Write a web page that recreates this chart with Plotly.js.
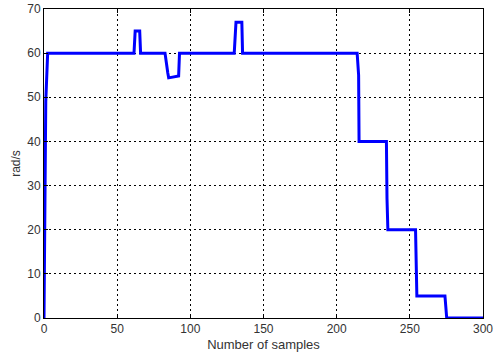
<!DOCTYPE html>
<html><head><meta charset="utf-8">
<script src="https://cdn.plot.ly/plotly-3.0.1.min.js"></script>
<style>html,body{margin:0;padding:0;background:#fff}#c{width:499px;height:360px}</style>
</head><body><div id="c"></div>
<script>
const samples = [0, 0.6, 1.2, 2.5, 61.5, 62.3, 65.4, 66.0, 82.7, 84.6, 85.2, 92.0, 92.6, 130.0, 131.2, 135.2, 135.7, 214.0, 214.4, 215.0, 215.3, 234.0, 234.4, 235.0, 253.9, 254.8, 274.0, 275.2, 300];
const speed   = [0, 18, 49, 60, 60, 65, 65, 60, 60, 55.5, 54.4, 54.8, 60, 60, 67, 67, 60, 60, 56, 55, 40, 40, 27, 20, 20, 5, 5, 0, 0];
const xTicks = [0, 50, 100, 150, 200, 250, 300];
const yTicks = [0, 10, 20, 30, 40, 50, 60, 70];

const fam = 'Liberation Sans, Arial, sans-serif';
const axisCommon = {
  showline: true, linecolor: '#000', linewidth: 1, mirror: 'ticks',
  ticks: 'inside', ticklen: 4, tickcolor: '#000',
  showgrid: true, gridcolor: '#000', gridwidth: 1, griddash: '2px,3px',
  zeroline: false, tickfont: {family: fam, size: 12, color: '#333'}
};
Plotly.newPlot('c', [{
  x: samples, y: speed, type: 'scatter', mode: 'lines',
  line: {color: '#0000ff', width: 3}
}], {
  width: 499, height: 360,
  margin: {l: 44, r: 16, t: 9, b: 42},
  paper_bgcolor: '#fff', plot_bgcolor: '#fff',
  showlegend: false,
  xaxis: Object.assign({}, axisCommon, {range: [0, 300], tickvals: xTicks,
    title: {text: 'Number of samples', standoff: 4, font: {family: fam, size: 13, color: '#333'}}}),
  yaxis: Object.assign({}, axisCommon, {range: [0, 70], tickvals: yTicks,
    title: {text: 'rad/s', standoff: 4, font: {family: fam, size: 12, color: '#333'}}})
}, {displayModeBar: false, staticPlot: true});
</script></body></html>
